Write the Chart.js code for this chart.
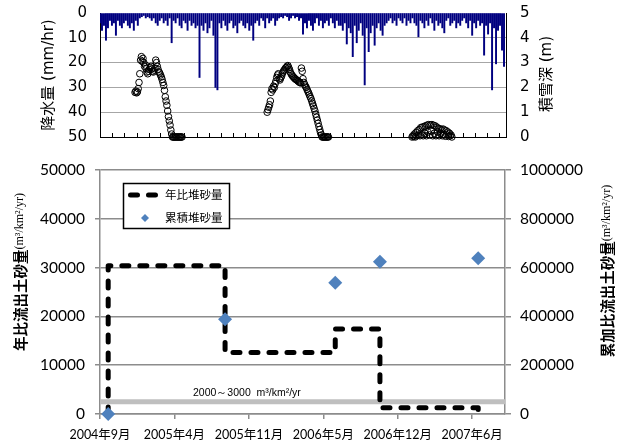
<!DOCTYPE html>
<html>
<head>
<meta charset="utf-8">
<script src="https://cdn.jsdelivr.net/npm/chart.js@4.4.1/dist/chart.umd.min.js"></script>
<style>
  html, body { margin: 0; padding: 0; background: #fff; }
  #wrap { position: relative; width: 624px; height: 445px; overflow: hidden; }
  canvas { position: absolute; left: 0; }
  #hydro { top: 0; }
  #sediment { top: 150px; }
</style>
</head>
<body>
<div id="wrap">
  <canvas id="hydro" width="624" height="150"></canvas>
  <canvas id="sediment" width="624" height="295"></canvas>
</div>
<script>
// ---------- Hydrology panel (days counted from 1 Oct 2004) ----------
const HYDRO_START = [2004, 9, 1];
const HYDRO_SPAN_DAYS = 1020;
const RAIN_STEP_DAYS = 5;
// precipitation, mm/hr, one value per 5-day step
const rainfall = [
  4, 7, 5, 11, 6, 3, 5, 4, 9, 3,
  5, 6, 4, 3, 5, 6, 4, 7, 3, 5,
  2, 1.5, 1, 2, 1.5, 2, 3, 2, 4, 5,
  3, 2, 4, 3, 5, 2, 12, 3, 4, 2,
  5, 6, 3, 4, 7, 3, 5, 4, 6, 5,
  26, 5, 7, 4, 8, 6, 3, 9, 30, 31,
  4, 6, 3, 5, 7, 4, 3, 6, 5, 8,
  4, 3, 5, 6, 4, 7, 5, 11, 4, 3,
  5, 2, 3, 6, 2, 4, 3, 2, 5, 3,
  2, 1.5, 2, 1, 1.5, 3, 2, 1, 2, 1.5,
  3, 2, 8.5, 4, 6, 3, 5, 7, 4, 2,
  5, 3, 6, 4, 3, 5, 2, 4, 6, 3,
  5, 5, 7, 4, 12.5, 6, 8, 17.6, 5, 12,
  7, 4, 9, 29, 6, 15.6, 8, 5, 13, 6,
  4, 7, 9, 5, 4, 3, 2, 4, 3, 5,
  2, 3, 4, 2, 5, 3, 4, 2, 4, 5,
  9.6, 3, 4, 6, 3, 5, 2, 4, 7, 3,
  5, 4, 6, 8, 3, 2, 5, 4, 3, 6,
  4, 5, 3, 2, 4, 6, 3, 9, 4, 6,
  3, 5, 4, 17, 5, 8.5, 4, 31, 6, 20.5,
  7, 5, 15, 21.5
];
// snow depth, m, one value per 2-day step within each season
const SNOW_STEP_DAYS = 2;
const snowSeason1Start = 88;
const snowSeason1 = [
  1.80, 1.85, 1.78, 1.82, 1.95, 2.20, 2.55, 3.10, 3.24, 3.05,
  3.17, 3.00, 2.85, 2.90, 2.75, 2.62, 2.55, 2.65, 2.72, 2.80,
  2.85, 2.75, 2.65, 2.62, 2.70, 2.78, 3.10, 3.00, 2.85, 2.72,
  2.62, 2.58, 2.50, 2.42, 2.32, 2.20, 2.08, 1.88, 1.62, 1.45,
  1.28, 1.05, 0.82, 0.65, 0.48, 0.28, 0.12, 0, 0, 0,
  0, 0, 0, 0, 0, 0, 0, 0, 0, 0
];
const snowSeason2Start = 420;
const snowSeason2 = [
  1.00, 1.10, 1.20, 1.30, 1.45, 1.80, 1.95, 1.90, 2.05, 2.00,
  2.15, 2.25, 2.40, 2.50, 2.55, 2.35, 2.30, 2.38, 2.45, 2.55,
  2.62, 2.68, 2.72, 2.78, 2.80, 2.85, 2.88, 2.80, 2.72, 2.62,
  2.55, 2.50, 2.45, 2.42, 2.38, 2.35, 2.32, 2.30, 2.28, 2.25,
  2.22, 2.20, 2.18, 2.78, 2.65, 2.35, 2.20, 2.12, 2.05, 2.00,
  1.92, 1.85, 1.78, 1.70, 1.62, 1.55, 1.45, 1.35, 1.25, 1.15,
  1.05, 0.92, 0.80, 0.68, 0.55, 0.42, 0.30, 0.18, 0.08, 0,
  0, 0, 0, 0, 0, 0, 0, 0
];
const snowSeason3Start = 784;
const snowSeason3 = [
  0, 0.05, 0.02, 0.12, 0, 0.18, 0.05, 0.25, 0.08, 0.30,
  0.05, 0.38, 0.10, 0.40, 0.05, 0.42, 0.15, 0.45, 0.05, 0.48,
  0.20, 0.50, 0.08, 0.48, 0.25, 0.50, 0.05, 0.47, 0.15, 0.45,
  0.05, 0.40, 0.20, 0.35, 0.05, 0.33, 0.15, 0.30, 0.05, 0.32,
  0.10, 0.28, 0.03, 0.25, 0.08, 0.20, 0.02, 0.15, 0.05, 0.08, 0
];

// ---------- Sediment panel ----------
const xTickLabels = ['2004年9月', '2005年4月', '2005年11月', '2006年5月', '2006年12月', '2007年6月'];
const X_MAX = 5.44;
const surveyPos = [0.11, 1.68, 3.16, 3.76, 5.08];          // survey dates on the time axis
const annualYield = [30400, 12600, 17400, 1300];           // m3/km2/yr between surveys
const cumulativeYield = [0, 388000, 538000, 624000, 638000];
const referenceBand = [2000, 3000];
const bandLabel = '2000～3000  m³/km²/yr';
const rateLabel = '年比堆砂量';
const cumLabel = '累積堆砂量';

// ---------- derived point lists ----------
const rainPoints = rainfall.map((v, i) => ({ x: i * RAIN_STEP_DAYS, y: v }));
function seasonPoints(start, vals) {
  return vals.map((v, i) => ({ x: start + i * SNOW_STEP_DAYS, y: v }));
}
const snowPoints = [].concat(
  seasonPoints(snowSeason1Start, snowSeason1),
  seasonPoints(snowSeason2Start, snowSeason2),
  seasonPoints(snowSeason3Start, snowSeason3)
);
const stepPoints = [{ x: surveyPos[0], y: 0 }];
annualYield.forEach((v, k) => {
  stepPoints.push({ x: surveyPos[k], y: v });
  stepPoints.push({ x: surveyPos[k + 1], y: v });
});
stepPoints.push({ x: surveyPos[surveyPos.length - 1], y: 0 });
const cumPoints = surveyPos.map((p, i) => ({ x: p, y: cumulativeYield[i] }));

// ---------- helpers ----------
function drawVerticalTitle(ctx, parts, cx, cy) {
  let total = 0;
  parts.forEach(p => { ctx.font = p.font; p.w = ctx.measureText(p.text).width; total += p.w; });
  ctx.save();
  ctx.translate(cx, cy);
  ctx.rotate(-Math.PI / 2);
  ctx.textBaseline = 'middle';
  ctx.textAlign = 'left';
  ctx.fillStyle = '#000';
  let x = -total / 2;
  parts.forEach(p => { ctx.font = p.font; ctx.fillText(p.text, x, 0); x += p.w; });
  ctx.restore();
}
// fixed axis box sizes, no extra label overhang padding
const fixWidth = w => s => { s.width = w; s.paddingTop = 0; s.paddingBottom = 0; };
const fixHeight = h => s => { s.height = h; s.paddingLeft = 0; s.paddingRight = 0; };

const NUM_FONT_TOP = { family: "'DejaVu Sans', sans-serif", size: 15 };
const TITLE_FONT_TOP = "15px 'DejaVu Sans', 'Noto Sans CJK JP', sans-serif";

const hydroDecor = {
  id: 'hydroDecor',
  afterDatasetsDraw(chart) {
    const { ctx, chartArea, scales } = chart;
    const x = scales.x;
    ctx.save();
    ctx.strokeStyle = '#000';
    ctx.lineWidth = 1;
    const t0 = Date.UTC(HYDRO_START[0], HYDRO_START[1], HYDRO_START[2]);
    for (let m = 1; ; m++) {
      const d = (Date.UTC(HYDRO_START[0], HYDRO_START[1] + m, 1) - t0) / 864e5;
      if (d >= x.max) break;
      const px = Math.round(x.getPixelForValue(d)) + 0.5;
      ctx.beginPath();
      ctx.moveTo(px, chartArea.bottom);
      ctx.lineTo(px, chartArea.bottom - 4);
      ctx.stroke();
    }
    ctx.restore();
  },
  afterDraw(chart) {
    const ctx = chart.ctx;
    drawVerticalTitle(ctx, [{ text: '降水量 (mm/hr)', font: TITLE_FONT_TOP }], 49, 75);
    drawVerticalTitle(ctx, [{ text: '積雪深 (m)', font: TITLE_FONT_TOP }], 547, 74);
  }
};

new Chart(document.getElementById('hydro'), {
  type: 'bar',
  data: {
    datasets: [
      {
        type: 'scatter', label: '積雪深', data: snowPoints,
        xAxisID: 'x', yAxisID: 'ySnow',
        pointStyle: 'circle', pointRadius: 3.3,
        borderColor: '#000', borderWidth: 1,
        backgroundColor: 'rgba(0,0,0,0)', clip: false
      },
      {
        type: 'bar', label: '降水量', data: rainPoints,
        xAxisID: 'x', yAxisID: 'yRain',
        backgroundColor: '#000080', barThickness: 1.3
      }
    ]
  },
  options: {
    responsive: false, animation: false,
    layout: { padding: { top: 13, left: 0, right: 0, bottom: 0 } },
    plugins: { legend: { display: false }, tooltip: { enabled: false } },
    scales: {
      x: {
        type: 'linear', min: 0, max: HYDRO_SPAN_DAYS, offset: false,
        ticks: { display: false },
        grid: { display: true, drawOnChartArea: false, drawTicks: false },
        border: { display: true, color: '#000', width: 1 },
        afterFit: fixHeight(13)
      },
      yRain: {
        position: 'left', reverse: true, min: 0, max: 50,
        ticks: { stepSize: 10, autoSkip: false, padding: 13, color: '#000', font: NUM_FONT_TOP },
        grid: {
          drawTicks: false,
          color: c => (c.tick && (c.tick.value === 0 || c.tick.value === 50)) ? 'rgba(0,0,0,0)' : '#a6a6a6'
        },
        border: { color: '#000', width: 1 },
        afterFit: fixWidth(100)
      },
      ySnow: {
        position: 'right', min: 0, max: 5,
        ticks: { stepSize: 1, autoSkip: false, padding: 14, color: '#000', font: NUM_FONT_TOP },
        grid: { drawOnChartArea: false, drawTicks: false },
        border: { color: '#000', width: 1 },
        afterFit: fixWidth(118)
      }
    }
  },
  plugins: [hydroDecor]
});

// ---------- sediment chart ----------
const GRID = '#8c8c8c';
const NUM_FONT = { family: "Lato, 'Open Sans', sans-serif", size: 15.5 };

const sedimentDecor = {
  id: 'sedimentDecor',
  afterDraw(chart) {
    const ctx = chart.ctx;
    const y = chart.scales.yRate;
    // reference band caption
    ctx.save();
    ctx.font = "10.5px 'Liberation Sans', Arial, sans-serif";
    ctx.fillStyle = '#000';
    ctx.textBaseline = 'middle';
    ctx.textAlign = 'left';
    ctx.fillText(bandLabel, 193, y.getPixelForValue(referenceBand[1]) - 6);
    ctx.restore();

    // legend
    ctx.save();
    ctx.fillStyle = '#fff';
    ctx.fillRect(123.5, 33.5, 106, 45);
    ctx.strokeStyle = '#000';
    ctx.lineWidth = 1.5;
    ctx.strokeRect(123.5, 33.5, 106, 45);
    ctx.lineWidth = 5;
    ctx.lineCap = 'round';
    ctx.setLineDash([7, 11]);
    ctx.beginPath();
    ctx.moveTo(130.5, 45);
    ctx.lineTo(156, 45);
    ctx.stroke();
    ctx.setLineDash([]);
    ctx.fillStyle = '#4f81bd';
    ctx.beginPath();
    ctx.moveTo(145, 64); ctx.lineTo(149, 68); ctx.lineTo(145, 72); ctx.lineTo(141, 68);
    ctx.closePath();
    ctx.fill();
    ctx.fillStyle = '#000';
    ctx.font = "11.5px 'Noto Sans CJK JP', sans-serif";
    ctx.textBaseline = 'middle';
    ctx.textAlign = 'left';
    ctx.fillText(rateLabel, 165, 45);
    ctx.fillText(cumLabel, 165, 68);
    ctx.restore();

    // axis titles
    const unit = { text: '(m³/km²/yr)', font: "12px 'Liberation Serif', serif" };
    drawVerticalTitle(ctx, [{ text: '年比流出土砂量', font: "bold 14.5px 'Noto Sans CJK JP', sans-serif" }, unit], 20, 122);
    drawVerticalTitle(ctx, [{ text: '累加比流出土砂量', font: "bold 14.5px 'Noto Sans CJK JP', sans-serif" }, unit], 607, 121);
  }
};

new Chart(document.getElementById('sediment'), {
  type: 'line',
  data: {
    datasets: [
      {
        type: 'scatter', label: cumLabel, data: cumPoints,
        xAxisID: 'x', yAxisID: 'yCum',
        pointStyle: 'rectRot', pointRadius: 7,
        backgroundColor: '#4f81bd', borderColor: '#4f81bd', borderWidth: 0,
        clip: false
      },
      {
        type: 'line', label: rateLabel, data: stepPoints,
        xAxisID: 'x', yAxisID: 'yRate',
        borderColor: '#000', borderWidth: 5, borderDash: [7, 11],
        borderCapStyle: 'round', borderJoinStyle: 'round',
        pointRadius: 0, fill: false, tension: 0
      },
      {
        type: 'line', label: 'band', data: [{ x: 0, y: referenceBand[1] }, { x: X_MAX, y: referenceBand[1] }],
        xAxisID: 'x', yAxisID: 'yRate',
        borderWidth: 0, borderColor: 'rgba(0,0,0,0)',
        backgroundColor: '#bfbfbf', pointRadius: 0,
        fill: { value: referenceBand[0] }
      }
    ]
  },
  options: {
    responsive: false, animation: false,
    layout: { padding: { top: 20, left: 0, right: 0, bottom: 0 } },
    plugins: { legend: { display: false }, tooltip: { enabled: false } },
    scales: {
      x: {
        type: 'linear', min: 0, max: X_MAX, offset: false,
        ticks: {
          stepSize: 1, includeBounds: false, autoSkip: false, maxRotation: 0, padding: 8,
          color: '#000',
          font: { family: "Lato, 'Noto Sans CJK JP', sans-serif", size: 12.5 },
          callback: v => (Number.isInteger(v) && xTickLabels[v] !== undefined) ? xTickLabels[v] : ''
        },
        grid: { drawOnChartArea: false, drawTicks: true, tickLength: 5, color: GRID, lineWidth: 1.5 },
        border: { color: GRID, width: 1.5 },
        afterFit: fixHeight(31)
      },
      yRate: {
        position: 'left', min: 0, max: 50000,
        ticks: { stepSize: 10000, autoSkip: false, padding: 10, color: '#000', font: NUM_FONT, callback: v => String(v) },
        grid: { color: GRID, lineWidth: 1.5, tickLength: 5 },
        border: { color: GRID, width: 1.5 },
        afterFit: fixWidth(100)
      },
      yCum: {
        position: 'right', min: 0, max: 1000000,
        ticks: { stepSize: 200000, autoSkip: false, padding: 9, color: '#000', font: NUM_FONT, callback: v => String(v) },
        grid: { drawOnChartArea: false, color: GRID, lineWidth: 1.5, tickLength: 6 },
        border: { color: GRID, width: 1.5 },
        afterFit: fixWidth(119)
      }
    }
  },
  plugins: [sedimentDecor]
});
</script>
</body>
</html>
